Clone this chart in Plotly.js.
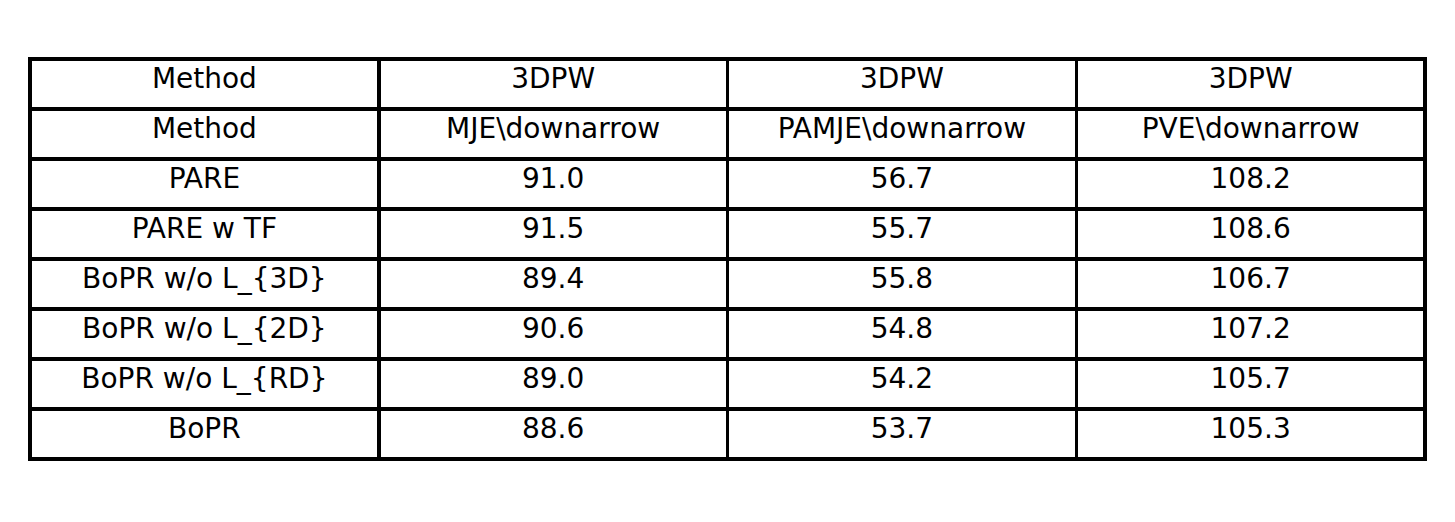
<!DOCTYPE html>
<html><head><meta charset="utf-8">
<script src="https://cdn.plot.ly/plotly-3.0.1.min.js"></script>
<style>body{margin:0;background:#fff}</style></head>
<body><div id="c" style="width:1455px;height:522px"></div>
<script>
const header = ["Method", "3DPW", "3DPW", "3DPW"];
const methods = ["Method", "PARE", "PARE w TF", "BoPR w/o L_{3D}", "BoPR w/o L_{2D}", "BoPR w/o L_{RD}", "BoPR"];
const mje = ["MJE\\downarrow", "91.0", "91.5", "89.4", "90.6", "89.0", "88.6"];
const pamje = ["PAMJE\\downarrow", "56.7", "55.7", "55.8", "54.8", "54.2", "53.7"];
const pve = ["PVE\\downarrow", "108.2", "108.6", "106.7", "107.2", "105.7", "105.3"];
const font = {family: "DejaVu Sans", size: 28, color: "#000"};
Plotly.newPlot("c", [{
  type: "table",
  domain: {x: [30/1455, 1425/1455], y: [1-461/522, 1-59/522]},
  columnwidth: [1,1,1,1],
  header: {values: header, align: "center", height: 50, font: font,
    line: {color: "#000", width: 3.5}, fill: {color: "#fff"}},
  cells: {values: [methods, mje, pamje, pve], align: "center", height: 50, font: font,
    line: {color: "#000", width: 3.5}, fill: {color: "#fff"}}
}], {width: 1455, height: 522, margin: {l:0, r:0, t:0, b:0}, paper_bgcolor: "#fff"},
{displayModeBar: false});
</script></body></html>
